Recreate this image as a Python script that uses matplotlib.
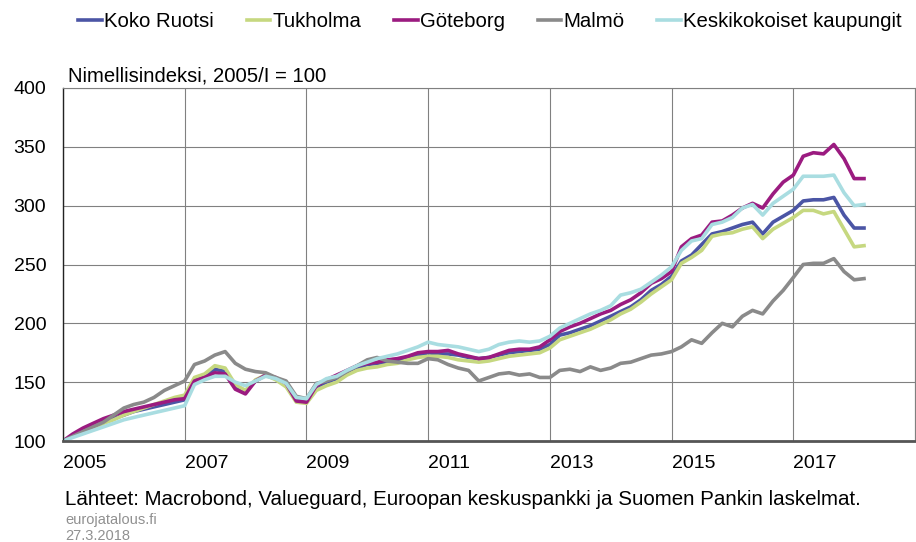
import matplotlib
matplotlib.use('Agg')
import matplotlib.pyplot as plt
import pandas as pd

plt.rcParams['font.family'] = ['Liberation Sans', 'DejaVu Sans']

# Kahden kuukauden välein, 2005/I = 100
dates = pd.date_range('2005-01-01', periods=80, freq='2MS')

koko_ruotsi = [100, 104, 108, 112, 116, 119, 122, 125, 127, 129, 131, 133,
               135, 152, 156, 161, 159, 146, 142, 151, 156, 153, 148, 135,
               134, 146, 150, 153, 158, 162, 165, 166, 167, 169, 171, 173,
               175, 174, 174, 173, 171, 170, 171, 173, 175, 176, 177, 178,
               182, 190, 192, 195, 198, 202, 206, 210, 214, 220, 228, 233,
               240, 253, 258, 267, 276, 278, 281, 284, 286, 276, 286, 291,
               296, 304, 305, 305, 307, 292, 281, 281]
tukholma = [100, 104, 108, 111, 115, 118, 122, 125, 128, 131, 134, 137,
            139, 154, 157, 164, 162, 148, 143, 152, 156, 152, 146, 133,
            132, 143, 147, 150, 156, 160, 162, 163, 165, 166, 169, 171,
            172, 172, 171, 169, 168, 167, 168, 170, 172, 173, 174, 175,
            179, 186, 189, 192, 195, 199, 203, 208, 212, 218, 225, 231,
            237, 251, 256, 262, 274, 276, 277, 280, 282, 272, 280, 285,
            290, 296, 296, 293, 295, 280, 265, 266]
goteborg = [100, 106, 111, 115, 119, 122, 125, 127, 129, 131, 133, 135,
            136, 151, 154, 158, 157, 144, 140, 151, 156, 154, 149, 134,
            133, 147, 152, 156, 160, 164, 166, 167, 169, 170, 172, 175,
            176, 176, 177, 174, 172, 170, 171, 174, 177, 178, 178, 180,
            186, 193, 197, 200, 204, 208, 211, 216, 220, 226, 234, 238,
            244, 265, 272, 275, 286, 287, 292, 298, 302, 298, 310, 320,
            326, 342, 345, 344, 352, 340, 323, 323]
malmo = [100, 104, 108, 112, 116, 122, 128, 131, 133, 137, 143, 147,
         151, 165, 168, 173, 176, 166, 161, 159, 158, 154, 151, 138,
         136, 149, 151, 154, 159, 164, 169, 171, 168, 167, 166, 166,
         170, 169, 165, 162, 160, 151, 154, 157, 158, 156, 157, 154,
         154, 160, 161, 159, 163, 160, 162, 166, 167, 170, 173, 174,
         176, 180, 186, 183, 192, 200, 197, 206, 211, 208, 219, 228,
         239, 250, 251, 251, 255, 244, 237, 238]
keskikokoiset = [100, 103, 106, 109, 112, 115, 118, 120, 122, 124, 126, 128,
                 130, 148, 152, 155, 155, 150, 147, 151, 155, 153, 149, 137,
                 136, 148, 153, 155, 160, 164, 167, 170, 172, 174, 177, 180,
                 184, 182, 181, 180, 178, 176, 178, 182, 184, 185, 184, 185,
                 189, 196, 200, 204, 208, 211, 215, 224, 226, 229, 235, 241,
                 248, 262, 270, 272, 284, 286, 290, 298, 301, 292, 302, 308,
                 314, 325, 325, 325, 326, 311, 300, 301]

names = ['Koko Ruotsi', 'Tukholma', 'Göteborg', 'Malmö', 'Keskikokoiset kaupungit']
series = [koko_ruotsi, tukholma, goteborg, malmo, keskikokoiset]
colors = ['#4b55a5', '#c6d880', '#9b1b80', '#8a8a8a', '#a9dde1']

fig = plt.figure(figsize=(9.16, 5.42), dpi=100)
ax = fig.add_axes([63 / 916, 101 / 542, 852 / 916, 353 / 542])

for name, vals, col in zip(names, series, colors):
    ax.plot(dates, vals, color=col, lw=2.6, label=name, solid_joinstyle='round')

ax.set_ylim(100, 400)
ax.set_yticks(range(100, 401, 50))
ax.set_xlim(pd.Timestamp('2005-01-01'), pd.Timestamp('2019-01-01'))
xt = pd.date_range('2005-01-01', '2019-01-01', freq='2YS')
ax.set_xticks(xt)
ax.set_xticklabels([str(d.year) if d.year < 2019 else '' for d in xt], ha='left')

ax.grid(True, color='#808080', lw=0.8)
ax.set_axisbelow(True)
for s in ['top', 'right']:
    ax.spines[s].set_color('#808080')
    ax.spines[s].set_linewidth(0.8)
ax.spines['left'].set_color('#222222')
ax.spines['left'].set_linewidth(1.0)
ax.spines['bottom'].set_color('#555555')
ax.spines['bottom'].set_linewidth(2.0)
ax.tick_params(length=0, labelsize=14)
ax.tick_params(axis='y', pad=12)
ax.tick_params(axis='x', pad=10)

fig.text(68 / 916, 1 - 82 / 542, 'Nimellisindeksi, 2005/I = 100', fontsize=14.6)

fig.legend(loc='upper left', bbox_to_anchor=(66 / 916, 1.0), ncol=5, frameon=False,
           fontsize=14.7, handlelength=1.15, handletextpad=0.12, columnspacing=1.6,
           borderaxespad=0.2)

fig.text(65 / 916, 1 - 505 / 542,
         'Lähteet: Macrobond, Valueguard, Euroopan keskuspankki ja Suomen Pankin laskelmat.',
         fontsize=14.8)
fig.text(65 / 916, 1 - 520 / 542, 'eurojatalous.fi', fontsize=10.5, color='#909090',
         va='center')
fig.text(65 / 916, 1 - 536 / 542, '27.3.2018', fontsize=10.5, color='#909090',
         va='center')

fig.savefig('out.png', dpi=100)
